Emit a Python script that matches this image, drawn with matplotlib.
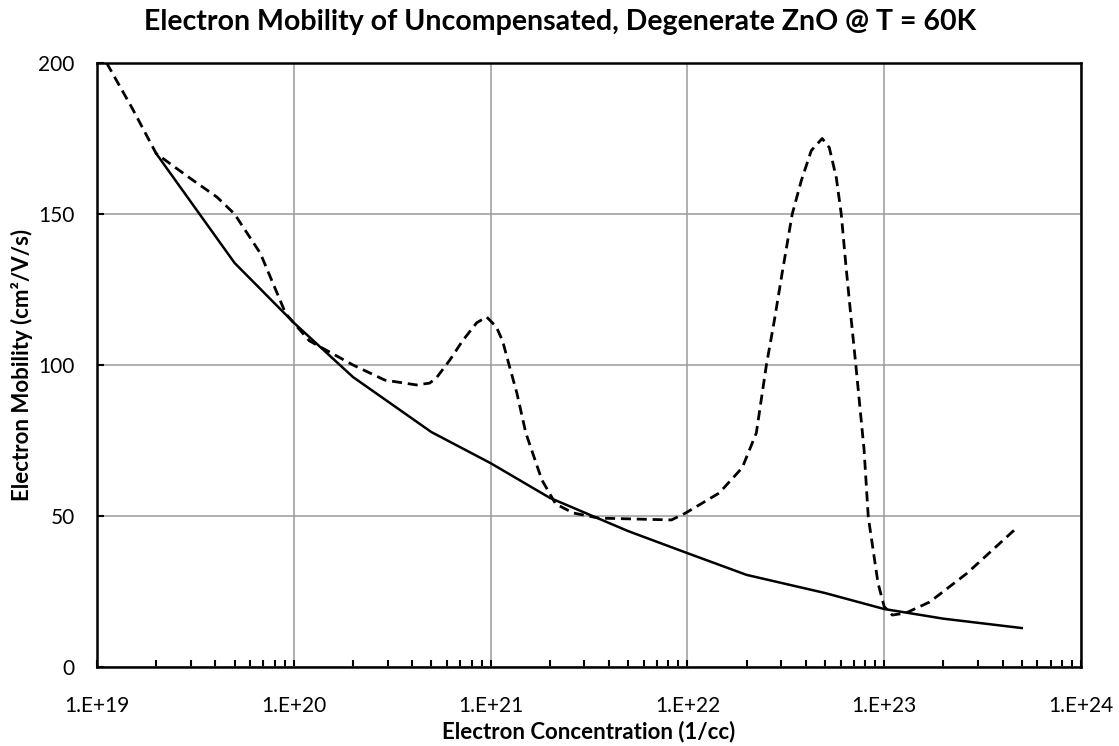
import matplotlib
matplotlib.use('Agg')
import matplotlib.pyplot as plt
from matplotlib.ticker import LogLocator, FixedLocator, NullFormatter

# solid curve (calculated mobility)
conc_solid = [2e19, 5e19, 1e20, 2e20, 5e20, 1e21, 2e21, 5e21, 1e22, 2e22, 5e22, 1e23, 2e23, 5e23]
mob_solid = [170, 133.8, 114, 96, 77.8, 67.5, 56, 45, 37.7, 30.5, 24.5, 19.2, 16, 12.9]

# dashed curve
conc_dash = [1.12e19, 1.51e19, 2.0e19, 2.95e19, 4.07e19, 5.0e19, 6.76e19, 9.1e19, 1.2e20,
             2.0e20, 2.9e20, 4.2e20, 4.9e20, 5.3e20, 6.2e20, 7.2e20, 8.5e20, 9.55e20,
             1.07e21, 1.15e21, 1.25e21, 1.36e21, 1.51e21, 1.82e21, 2.14e21, 2.63e21,
             3.55e21, 8.3e21, 9.8e21, 1.45e22, 1.9e22, 2.24e22, 2.52e22, 2.77e22, 3.04e22,
             3.41e22, 3.79e22, 4.26e22, 4.84e22, 5.26e22, 5.71e22, 6.05e22, 6.41e22, 6.8e22,
             7.2e22, 7.9e22, 8.3e22, 9.3e22, 1.0e23, 1.1e23, 1.29e23, 1.7e23, 2.63e23, 4.7e23]
mob_dash = [200, 185, 170, 162, 155.6, 150, 137, 117, 108,
            100, 95, 93.4, 94, 95.7, 101.6, 108, 114, 115.9,
            112.6, 108, 99.3, 90.7, 77.5, 62, 54, 51,
            49.3, 48.7, 51, 57.6, 66, 77.5, 100, 115, 131,
            150, 161, 171, 175, 172, 162, 150, 132, 115,
            99, 72, 49.7, 27.8, 20, 17.2, 17.9, 21.5, 31, 46]

x_ticks = [1e19, 1e20, 1e21, 1e22, 1e23, 1e24]
x_labels = ['1.E+19', '1.E+20', '1.E+21', '1.E+22', '1.E+23', '1.E+24']
y_ticks = [0, 50, 100, 150, 200]

plt.rcParams['font.family'] = ['Lato', 'DejaVu Sans']

W, H = 1119, 746
fig = plt.figure(figsize=(W / 100, H / 100), dpi=100)
ax = fig.add_axes([97 / W, 1 - 667 / H, (1081 - 97) / W, (667 - 63) / H])

ax.plot(conc_solid, mob_solid, color='black', lw=1.8, zorder=3)
ln, = ax.plot(conc_dash, mob_dash, color='black', lw=2.0, zorder=3)
ln.set_dashes([3.6, 2.1])

ax.set_xscale('log')
ax.set_xlim(1e19, 1e24)
ax.set_ylim(0, 200)
ax.xaxis.set_major_locator(FixedLocator(x_ticks))
ax.set_xticklabels(x_labels)
ax.xaxis.set_minor_locator(LogLocator(base=10, subs=range(2, 10), numticks=20))
ax.xaxis.set_minor_formatter(NullFormatter())
ax.set_yticks(y_ticks)

ax.grid(True, which='major', color='#9a9a9a', lw=1.1)
ax.set_axisbelow(True)
for s in ax.spines.values():
    s.set_linewidth(1.8)
    s.set_color('black')

ax.tick_params(axis='x', which='major', direction='in', length=5, width=1.5, labelsize=15, pad=21)
ax.tick_params(axis='x', which='minor', direction='in', length=5, width=1.5)
ax.tick_params(axis='y', which='major', direction='in', length=5, width=1.5, labelsize=15, pad=16)

fig.text(589 / W, 1 - 732 / H, 'Electron Concentration (1/cc)', fontsize=16,
         fontweight='bold', ha='center', va='center')
fig.text(22 / W, 1 - 365 / H, 'Electron Mobility (cm²/V/s)', fontsize=16,
         fontweight='bold', ha='center', va='center', rotation=90)
fig.text(560 / W, 1 - 22 / H, 'Electron Mobility of Uncompensated, Degenerate ZnO @ T = 60K',
         fontsize=20.5, fontweight='bold', ha='center', va='center')

fig.savefig('out.png', dpi=100)
